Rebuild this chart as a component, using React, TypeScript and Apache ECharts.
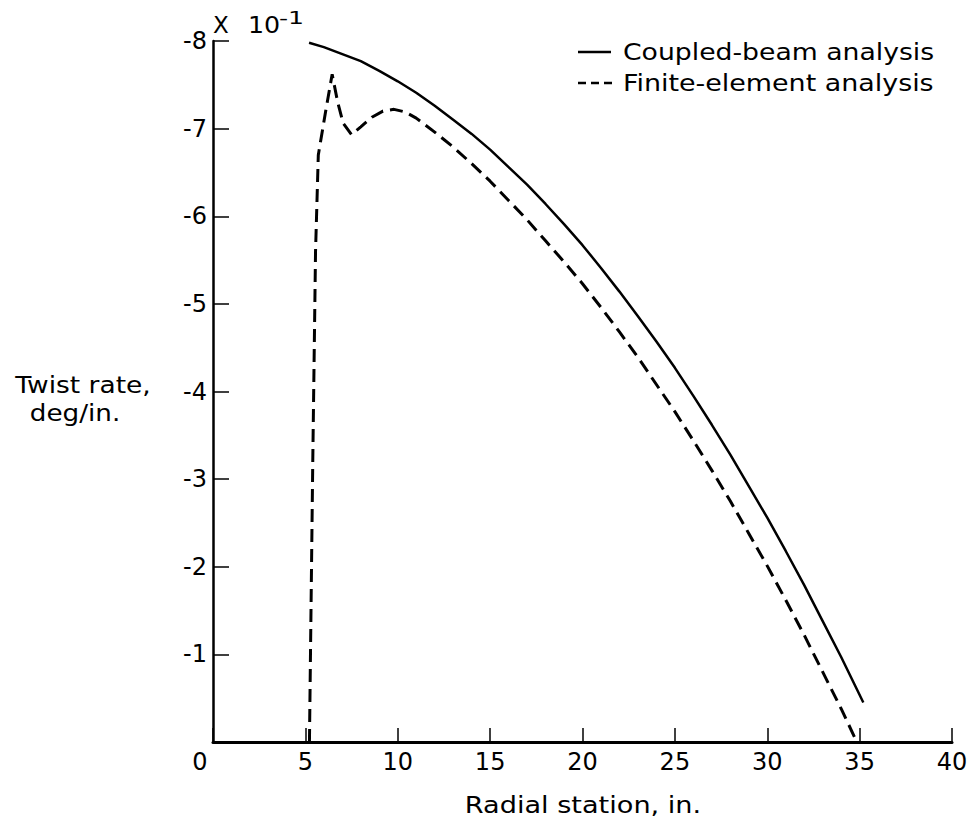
import React, { useEffect, useRef } from "react";
import * as echarts from "echarts";

// Coupled-beam analysis (solid)
const coupledX = [5.2, 6, 7, 8, 9, 10, 11, 12, 13, 14, 15, 16, 17, 18, 19, 20, 21, 22, 23, 24, 25, 26, 27, 28, 29, 30, 31, 32, 33, 34, 35.2];
const coupledY = [-7.98, -7.93, -7.85, -7.77, -7.66, -7.54, -7.41, -7.26, -7.1, -6.94, -6.76, -6.56, -6.36, -6.14, -5.91, -5.67, -5.41, -5.14, -4.86, -4.57, -4.27, -3.95, -3.62, -3.28, -2.92, -2.56, -2.18, -1.79, -1.38, -0.97, -0.45];

// Finite-element analysis (dashed)
const finiteX = [5.22, 5.4, 5.55, 5.7, 6.1, 6.45, 6.75, 7.05, 7.5, 8.0, 8.6, 9.2, 9.8, 10.4, 11, 12, 13, 14, 15, 16, 17, 18, 19, 20, 21, 22, 23, 24, 25, 26, 27, 28, 29, 30, 31, 32, 33, 34, 34.85];
const finiteY = [0, -3.2, -5.6, -6.7, -7.2, -7.62, -7.3, -7.06, -6.93, -7.02, -7.13, -7.2, -7.22, -7.19, -7.12, -6.96, -6.79, -6.6, -6.4, -6.18, -5.96, -5.72, -5.48, -5.23, -4.96, -4.68, -4.39, -4.08, -3.77, -3.44, -3.1, -2.75, -2.38, -2.01, -1.62, -1.22, -0.8, -0.38, 0];

const seriesNames = ["Coupled-beam analysis", "Finite-element analysis"];
const xTitle = "Radial station, in.";
const yTitleLines = ["Twist rate,", "deg/in."];

const FONT = '"DejaVu Sans", sans-serif';

export default function App() {
  const ref = useRef<HTMLDivElement>(null);
  useEffect(() => {
    if (!ref.current) return;
    const chart = echarts.init(ref.current, undefined, { renderer: "svg" });
    const coupled = coupledX.map((x, i) => [x, coupledY[i]]);
    const finite = finiteX.map((x, i) => [x, finiteY[i]]);
    const txt = (text: string, x: number, y: number, size: number, align: string, sx: number) => ({
      type: "text",
      x,
      y,
      scaleX: sx,
      silent: true,
      style: {
        text,
        fill: "#000",
        fontSize: size,
        fontFamily: FONT,
        align,
        verticalAlign: "middle",
      },
    });
    chart.setOption({
      animation: false,
      backgroundColor: "#fff",
      grid: { left: 213, right: 22, top: 41, bottom: 82 },
      xAxis: {
        type: "value",
        min: 0,
        max: 40,
        interval: 5,
        splitLine: { show: false },
        axisLine: { lineStyle: { color: "#000", width: 3 } },
        axisTick: { inside: true, length: 14, lineStyle: { color: "#000", width: 1.5 } },
        axisLabel: {
          color: "#000",
          fontSize: 24,
          fontFamily: FONT,
          margin: 8,
          formatter: (v: number) => (v === 0 ? "{z|0}" : String(v)),
          rich: { z: { fontSize: 24, fontFamily: FONT, color: "#000", padding: [0, 26, 0, 0] } },
        },
      },
      yAxis: {
        type: "value",
        inverse: true,
        min: -8,
        max: 0,
        interval: 1,
        splitLine: { show: false },
        axisLine: { lineStyle: { color: "#000", width: 2.5 } },
        axisTick: { inside: true, length: 16, lineStyle: { color: "#000", width: 1.5 } },
        axisLabel: {
          color: "#000",
          fontSize: 24,
          fontFamily: FONT,
          margin: 6,
          formatter: (v: number) => (v === 0 ? "" : String(v)),
        },
      },
      series: [
        {
          name: seriesNames[0],
          type: "line",
          data: coupled,
          symbol: "none",
          lineStyle: { color: "#000", width: 2.5 },
        },
        {
          name: seriesNames[1],
          type: "line",
          data: finite,
          symbol: "none",
          lineStyle: { color: "#000", width: 3, type: [13, 7] },
        },
      ],
      graphic: [
        txt("X", 213, 25, 23, "left", 1),
        txt("10", 248, 25, 23, "left", 1.1),
        txt("-1", 279, 18, 18, "left", 1.4),
        {
          type: "line",
          silent: true,
          shape: { x1: 578, y1: 52, x2: 611, y2: 52 },
          style: { stroke: "#000", lineWidth: 2.5 },
        },
        {
          type: "line",
          silent: true,
          shape: { x1: 578, y1: 83, x2: 612, y2: 83 },
          style: { stroke: "#000", lineWidth: 2.5, lineDash: [8, 5] },
        },
        txt(seriesNames[0], 623, 52, 23, "left", 1.16),
        txt(seriesNames[1], 623, 83, 23, "left", 1.17),
        txt(xTitle, 583, 805, 23, "center", 1.18),
        txt(yTitleLines[0], 83, 385, 23, "center", 1.15),
        txt(yTitleLines[1], 75, 413, 23, "center", 1.14),
      ],
    });
    return () => chart.dispose();
  }, []);
  return (
    <div
      ref={ref}
      style={{ position: "absolute", left: 0, top: 0, width: 974, height: 824 }}
    />
  );
}
